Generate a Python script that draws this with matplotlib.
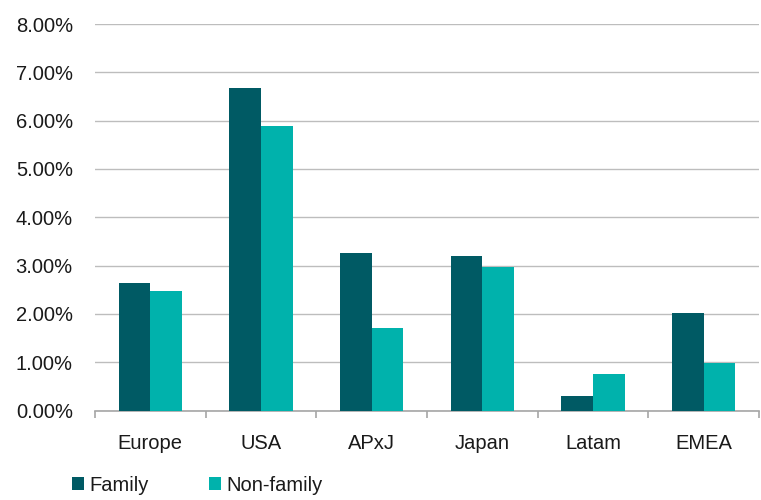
import matplotlib
matplotlib.use("Agg")
import matplotlib.pyplot as plt
import numpy as np
from matplotlib.ticker import FuncFormatter, MultipleLocator

categories = ["Europe", "USA", "APxJ", "Japan", "Latam", "EMEA"]
family = [2.63, 6.67, 3.25, 3.20, 0.29, 2.02]
non_family = [2.47, 5.89, 1.70, 2.97, 0.75, 0.99]
series_names = ["Family", "Non-family"]

plt.rcParams['font.family'] = ['Liberation Sans', 'DejaVu Sans']
text_color = '#1A1A1A'
c_family = '#005A64'
c_non = '#00B2AC'
fs = 14.5

fig = plt.figure(figsize=(7.61, 5.0), dpi=100)
ax = fig.add_axes([95/761, 1 - 410.5/500, (759-95)/761, (410.5-24)/500])

x = np.arange(len(categories))
w = 0.286
ax.bar(x - w/2, family, width=w, color=c_family, label=series_names[0], zorder=3)
ax.bar(x + w/2, non_family, width=w, color=c_non, label=series_names[1], zorder=3)

ax.set_xlim(-0.5, len(categories) - 0.5)
ax.set_ylim(0, 8)
ax.yaxis.set_major_locator(MultipleLocator(1))
ax.yaxis.set_major_formatter(FuncFormatter(lambda v, p: f"{v:.2f}%"))
ax.grid(axis='y', color='#BDBDBD', linewidth=1.0, zorder=0)
ax.set_axisbelow(True)

for s in ['top', 'right', 'left']:
    ax.spines[s].set_visible(False)
ax.spines['bottom'].set_color('#A6A6A6')
ax.spines['bottom'].set_linewidth(1.2)

ax.set_xticks(x)
ax.set_xticklabels(categories)
ax.set_xticks(np.arange(-0.5, len(categories)), minor=True)
ax.tick_params(axis='x', which='major', length=0, pad=17, labelsize=fs, labelcolor=text_color)
ax.tick_params(axis='x', which='minor', length=5, width=1.2, color='#A6A6A6')
ax.tick_params(axis='y', length=0, pad=16, labelsize=fs, labelcolor=text_color)

leg = fig.legend(loc='lower left', bbox_to_anchor=(68/761, 0.002), ncol=2, frameon=False,
                 fontsize=fs, handlelength=0.6, handleheight=0.6, handletextpad=0.25,
                 columnspacing=3.0, borderaxespad=0.0, borderpad=0.2)
for t in leg.get_texts():
    t.set_color(text_color)

fig.savefig("out.png", dpi=100)
